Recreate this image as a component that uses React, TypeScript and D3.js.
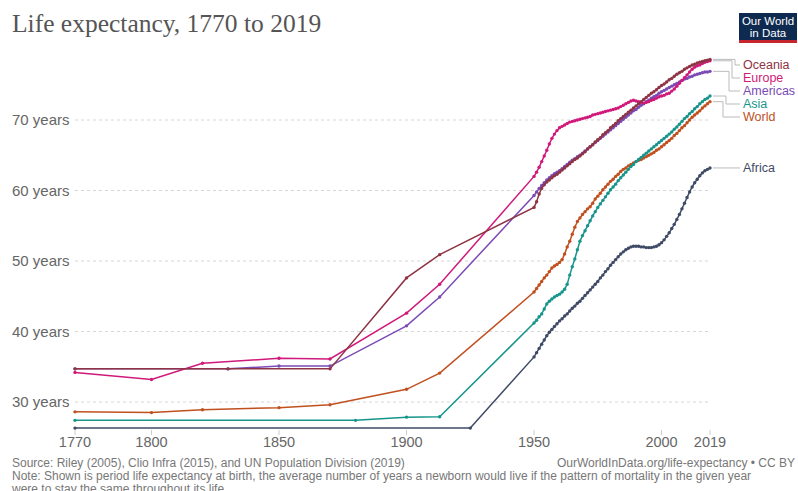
import React from "react";
import * as d3 from "d3";

const regionNames = ["Oceania", "Europe", "Americas", "Asia", "World", "Africa"];
const regionColors = ["#8E3445", "#D0197A", "#7B4BB5", "#17958C", "#C0501F", "#3F4B66"];

const annualYears = d3.range(1950, 2020);

const oceaniaEarlyYears = [1770, 1830, 1870, 1900, 1913];
const oceaniaEarly = [34.7, 34.7, 34.7, 47.6, 50.9];
const europeEarlyYears = [1770, 1800, 1820, 1850, 1870, 1900, 1913];
const europeEarly = [34.2, 33.2, 35.5, 36.2, 36.1, 42.6, 46.7];
const americasEarlyYears = [1770, 1830, 1850, 1870, 1900, 1913];
const americasEarly = [34.7, 34.7, 35.1, 35.1, 40.8, 44.9];
const asiaEarlyYears = [1770, 1880, 1900, 1913];
const asiaEarly = [27.4, 27.4, 27.85, 27.9];
const worldEarlyYears = [1770, 1800, 1820, 1850, 1870, 1900, 1913];
const worldEarly = [28.6, 28.5, 28.9, 29.2, 29.6, 31.8, 34.1];
const africaEarlyYears = [1770, 1925];
const africaEarly = [26.3, 26.3];

const oceaniaAnnual = [
  57.6, 58.4, 59.5, 60.3, 60.8, 61.2, 61.5, 61.8, 62.1, 62.3,
  62.6, 62.9, 63.2, 63.5, 63.8, 64.1, 64.4, 64.6, 64.9, 65.2,
  65.5, 65.9, 66.2, 66.5, 66.9, 67.2, 67.5, 67.9, 68.2, 68.5,
  68.9, 69.2, 69.5, 69.9, 70.2, 70.5, 70.8, 71.1, 71.4, 71.7,
  72.0, 72.3, 72.6, 72.9, 73.2, 73.5, 73.8, 74.0, 74.3, 74.6,
  74.9, 75.1, 75.4, 75.7, 75.9, 76.2, 76.5, 76.7, 76.9, 77.2,
  77.4, 77.6, 77.8, 77.9, 78.1, 78.2, 78.3, 78.4, 78.5, 78.6,
];
const europeAnnual = [
  62.0, 62.6, 63.3, 64.1, 64.9, 65.7, 66.6, 67.4, 68.0, 68.5,
  68.9, 69.1, 69.3, 69.5, 69.7, 69.8, 69.9, 70.0, 70.1, 70.2,
  70.3, 70.4, 70.5, 70.7, 70.8, 70.9, 71.0, 71.1, 71.2, 71.3,
  71.4, 71.5, 71.6, 71.7, 71.9, 72.1, 72.3, 72.5, 72.7, 72.8,
  72.7, 72.6, 72.5, 72.4, 72.5, 72.6, 72.8, 72.9, 73.1, 73.3,
  73.4, 73.5, 73.7, 73.8, 74.1, 74.4, 74.8, 75.2, 75.6, 76.0,
  76.4, 76.8, 77.2, 77.5, 77.7, 77.8, 78.0, 78.2, 78.3, 78.4,
];
const americasAnnual = [
  59.3, 59.8, 60.3, 60.7, 61.1, 61.5, 61.8, 62.1, 62.4, 62.6,
  62.8, 63.1, 63.4, 63.7, 64.0, 64.3, 64.5, 64.8, 65.0, 65.3,
  65.6, 65.9, 66.2, 66.5, 66.8, 67.1, 67.4, 67.7, 68.0, 68.3,
  68.6, 68.9, 69.2, 69.5, 69.8, 70.1, 70.4, 70.7, 71.0, 71.3,
  71.5, 71.8, 72.1, 72.3, 72.6, 72.8, 73.1, 73.3, 73.5, 73.8,
  74.0, 74.2, 74.4, 74.6, 74.8, 75.0, 75.2, 75.4, 75.6, 75.8,
  75.9, 76.1, 76.2, 76.4, 76.5, 76.6, 76.7, 76.8, 76.8, 76.9,
];
const asiaAnnual = [
  41.2, 41.6, 42.1, 42.5, 43.2, 43.9, 44.3, 44.6, 44.9, 45.1,
  45.3, 45.6, 46.0, 46.7, 48.0, 49.2, 50.3, 51.6, 52.8, 53.6,
  54.3, 55.0, 55.7, 56.4, 57.0, 57.6, 58.1, 58.6, 59.1, 59.6,
  60.1, 60.5, 60.9, 61.4, 61.8, 62.2, 62.6, 63.0, 63.4, 63.7,
  64.1, 64.4, 64.7, 65.0, 65.3, 65.6, 65.9, 66.2, 66.5, 66.8,
  67.1, 67.4, 67.7, 68.0, 68.3, 68.7, 69.0, 69.4, 69.8, 70.2,
  70.5, 70.9, 71.2, 71.6, 71.9, 72.3, 72.6, 72.9, 73.1, 73.4,
];
const worldAnnual = [
  45.6, 46.1, 46.6, 47.1, 47.6, 48.0, 48.5, 49.0, 49.3, 49.5,
  49.8, 50.2, 51.0, 52.0, 52.8, 53.8, 54.8, 55.6, 56.1, 56.6,
  57.0, 57.4, 57.7, 58.2, 58.8, 59.2, 59.6, 60.1, 60.5, 60.9,
  61.3, 61.6, 62.0, 62.3, 62.7, 63.0, 63.2, 63.5, 63.7, 63.9,
  64.1, 64.3, 64.4, 64.6, 64.8, 65.0, 65.2, 65.4, 65.7, 65.9,
  66.2, 66.5, 66.8, 67.1, 67.4, 67.8, 68.1, 68.5, 68.9, 69.2,
  69.6, 70.0, 70.4, 70.7, 71.0, 71.3, 71.7, 72.0, 72.3, 72.6,
];
const africaAnnual = [
  36.4, 37.0, 37.6, 38.2, 38.8, 39.4, 39.9, 40.3, 40.7, 41.1,
  41.5, 41.8, 42.2, 42.5, 42.9, 43.3, 43.6, 44.0, 44.3, 44.7,
  45.1, 45.5, 45.9, 46.3, 46.7, 47.1, 47.6, 48.0, 48.5, 48.9,
  49.4, 49.8, 50.2, 50.6, 51.0, 51.3, 51.6, 51.8, 52.0, 52.1,
  52.1, 52.1, 52.0, 52.0, 51.9, 51.9, 51.9, 52.0, 52.1, 52.3,
  52.6, 53.0, 53.5, 54.0, 54.6, 55.2, 55.9, 56.6, 57.4, 58.2,
  59.0, 59.8, 60.5, 61.1, 61.6, 62.1, 62.5, 62.8, 63.0, 63.2,
];

const earlyYears = [oceaniaEarlyYears, europeEarlyYears, americasEarlyYears, asiaEarlyYears, worldEarlyYears, africaEarlyYears];
const earlyValues = [oceaniaEarly, europeEarly, americasEarly, asiaEarly, worldEarly, africaEarly];
const annualValues = [oceaniaAnnual, europeAnnual, americasAnnual, asiaAnnual, worldAnnual, africaAnnual];

const xTicks = [1770, 1800, 1850, 1900, 1950, 2000, 2019];
const yTicks = [30, 40, 50, 60, 70];

const W = 798;
const H = 491;
const FONT = "'Liberation Sans', Arial, sans-serif";

export default function App() {
  const x = d3.scaleLinear().domain([1770, 2019]).range([75, 710]);
  const y = d3.scaleLinear().domain([30, 70]).range([402, 120]);

  const series = regionNames.map((name, i) => {
    const pts: [number, number][] = [];
    earlyYears[i].forEach((yr, j) => pts.push([yr, earlyValues[i][j]]));
    annualYears.forEach((yr, j) => pts.push([yr, annualValues[i][j]]));
    return { name, color: regionColors[i], pts };
  });

  const line = d3
    .line<[number, number]>()
    .x((d) => x(d[0]))
    .y((d) => y(d[1]));

  // label layout
  const spacing = 13;
  const minTop = 65;
  const items = series
    .map((s) => ({ name: s.name, color: s.color, ideal: y(s.pts[s.pts.length - 1][1]), pos: 0 }))
    .sort((a, b) => a.ideal - b.ideal);
  type G = { items: typeof items; start: number };
  const groups: G[] = [];
  items.forEach((it) => {
    groups.push({ items: [it], start: Math.max(it.ideal, minTop) });
    while (groups.length > 1) {
      const g = groups[groups.length - 1];
      const p = groups[groups.length - 2];
      if (p.start + p.items.length * spacing > g.start) {
        const merged = p.items.concat(g.items);
        const mean = d3.mean(merged, (m) => m.ideal) as number;
        let start = mean - ((merged.length - 1) * spacing) / 2;
        start = Math.max(start, minTop);
        groups.splice(groups.length - 2, 2, { items: merged, start });
      } else break;
    }
  });
  groups.forEach((g) => g.items.forEach((it, k) => (it.pos = g.start + k * spacing)));

  const labelX = 743;
  const endX = x(2019) + 3;

  return (
    <svg
      width={W}
      height={H}
      viewBox={`0 0 ${W} ${H}`}
      style={{ position: "absolute", left: 0, top: 0, background: "#fff" }}
    >
      <rect x={0} y={0} width={W} height={H} fill="#fff" />
      <text x={12} y={32} fontFamily="'Liberation Serif', 'DejaVu Serif', serif" fontSize={25.5} fill="#555">
        Life expectancy, 1770 to 2019
      </text>

      {/* logo */}
      <g>
        <rect x={739} y={13} width={58} height={30} fill="#0E2A50" />
        <rect x={739} y={40} width={58} height={3} fill="#C8262E" />
        <text x={768} y={25} textAnchor="middle" fontFamily={FONT} fontSize={11.5} fill="#fff">
          Our World
        </text>
        <text x={768} y={36.5} textAnchor="middle" fontFamily={FONT} fontSize={11.5} fill="#fff">
          in Data
        </text>
      </g>

      {/* grid */}
      {yTicks.map((t) => (
        <g key={t}>
          <line x1={75} x2={710} y1={y(t)} y2={y(t)} stroke="#d6d6d6" strokeDasharray="3,3" strokeWidth={1} />
          <text x={12} y={y(t)} dy="0.35em" fontFamily={FONT} fontSize={15} fill="#666">
            {`${t} years`}
          </text>
        </g>
      ))}

      {/* x axis */}
      {xTicks.map((t) => (
        <g key={t}>
          <line x1={x(t)} x2={x(t)} y1={430} y2={435} stroke="#ccc" />
          <text x={x(t)} y={447} textAnchor="middle" fontFamily={FONT} fontSize={14.5} fill="#666">
            {t}
          </text>
        </g>
      ))}

      {/* series */}
      {series
        .slice()
        .reverse()
        .map((s) => (
          <g key={s.name}>
            <path d={line(s.pts) || ""} fill="none" stroke={s.color} strokeWidth={1.5} />
            {s.pts.map((p, j) => (
              <circle key={j} cx={x(p[0])} cy={y(p[1])} r={1.7} fill={s.color} />
            ))}
          </g>
        ))}

      {/* labels */}
      {items.map((it, i) => {
        const straight = Math.abs(it.pos - it.ideal) < 0.5;
        const bend = 735 - 3 * i;
        const d = straight
          ? `M${endX},${it.ideal}H${labelX - 3}`
          : `M${endX},${it.ideal}H${bend}V${it.pos}H${labelX - 3}`;
        return (
          <g key={it.name}>
            <path d={d} fill="none" stroke="#bbb" strokeWidth={1} />
            <text x={labelX} y={it.pos} dy="0.35em" fontFamily={FONT} fontSize={12.5} fill={it.color}>
              {it.name}
            </text>
          </g>
        );
      })}

      {/* footer */}
      <text x={12} y={467} fontFamily={FONT} fontSize={12} fill="#777">
        Source: Riley (2005), Clio Infra (2015), and UN Population Division (2019)
      </text>
      <text x={795} y={467} textAnchor="end" fontFamily={FONT} fontSize={12} fill="#777">
        OurWorldInData.org/life-expectancy • CC BY
      </text>
      <text x={12} y={480} fontFamily={FONT} fontSize={12} fill="#777">
        Note: Shown is period life expectancy at birth, the average number of years a newborn would live if the pattern of mortality in the given year
      </text>
      <text x={12} y={493} fontFamily={FONT} fontSize={12} fill="#777">
        were to stay the same throughout its life.
      </text>
    </svg>
  );
}
